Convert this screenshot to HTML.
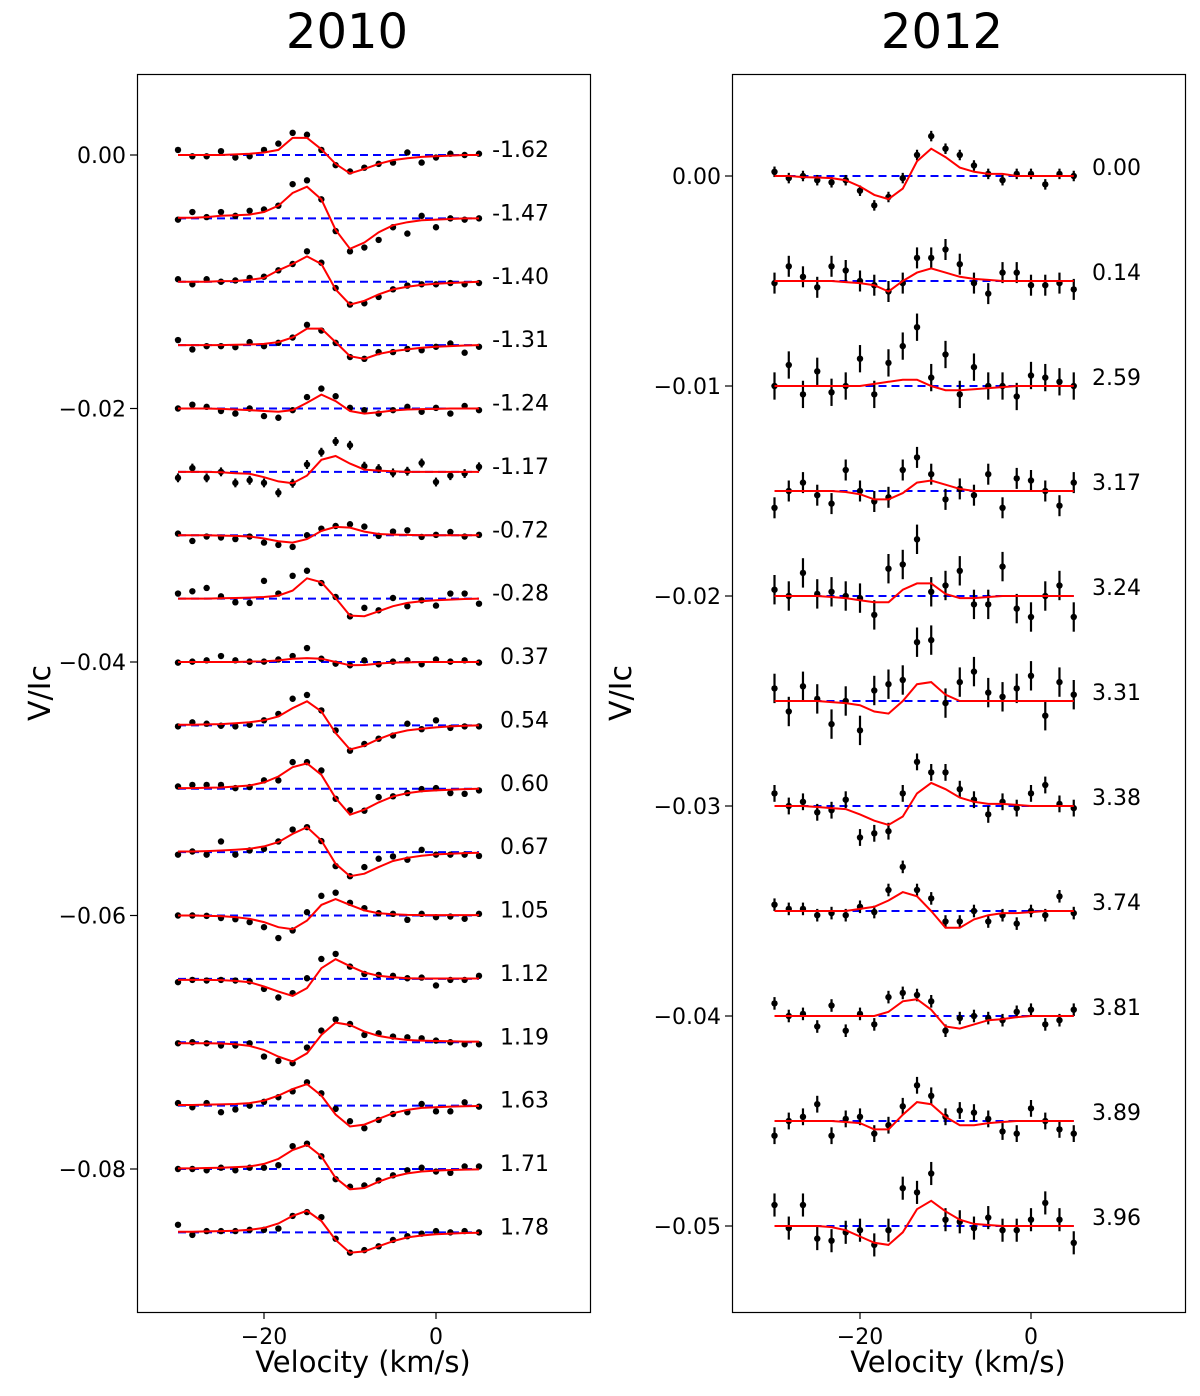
<!DOCTYPE html>
<html><head><meta charset="utf-8"><style>
html,body{margin:0;padding:0;background:#fff;}
svg{display:block;font-family:"DejaVu Sans","Liberation Sans",sans-serif;}
</style></head><body>
<svg id="chart" width="1200" height="1396" viewBox="0 0 1200 1396" xmlns="http://www.w3.org/2000/svg">
<text x="347" y="48" font-size="48" text-anchor="middle">2010</text>
<text x="942" y="48" font-size="48" text-anchor="middle">2012</text>
<rect x="137.5" y="74.5" width="453" height="1238" fill="none" stroke="#000" stroke-width="1.2"/>
<rect x="732.5" y="74.5" width="453" height="1238" fill="none" stroke="#000" stroke-width="1.2"/>
<text transform="translate(50,693) rotate(-90)" font-size="30" text-anchor="middle">V/Ic</text>
<text transform="translate(631,693) rotate(-90)" font-size="30" text-anchor="middle">V/Ic</text>
<text x="363" y="1372" font-size="29" text-anchor="middle">Velocity (km/s)</text>
<text x="958" y="1372" font-size="29" text-anchor="middle">Velocity (km/s)</text>
<g id="left"></g><g id="right"></g>
</svg>
<script>
const velocity=[-30.0,-28.33,-26.67,-25.0,-23.33,-21.67,-20.0,-18.33,-16.67,-15.0,-13.33,-11.67,-10.0,-8.33,-6.67,-5.0,-3.33,-1.67,0.0,1.67,3.33,5.0];
const leftLabels=['-1.62','-1.47','-1.40','-1.31','-1.24','-1.17','-0.72','-0.28','0.37','0.54','0.60','0.67','1.05','1.12','1.19','1.63','1.71','1.78'];
const leftErr=[2,2,2,2,2,3.5,2,2,2,2,2,2,2,2,2,2,2,2];
const leftModel=[
[0,0,0,0,0.5,1,2,4,13.5,13.5,4.5,-7,-14.5,-11,-7,-4,-2.5,-1.5,-1,-0.5,0,0],
[0.5,0.5,1,2,2.5,3,5,10,20,25,15,-9,-24,-19,-11,-5.5,-3,-1.5,-1,-0.5,0,0],
[0,0,0,0.5,0.5,1.5,3,9,14,20,14,-6,-18,-15,-10,-6,-4,-2.5,-1.5,-1,-0.5,0],
[0,0,0,0,0.3,0.5,1,2.4,6,13,13,2.4,-8.7,-10.8,-7,-4.7,-3.4,-2,-1.3,-0.8,-0.3,0],
[0,0,0,-0.3,-0.8,-1.3,-2,-2.6,-1.3,4.5,11,5.8,-2,-4,-3,-1.6,-0.8,-0.5,-0.3,0,0,0],
[0,0,0,-0.3,-1.1,-1.5,-4.2,-7.5,-8.9,-2.9,9.5,12.5,6.5,1.8,1,0.5,0,0,0,0,0,0],
[0,0,0,-0.3,-0.5,-1,-2.6,-4.7,-5.8,-3,3.4,6.6,6,2.9,1,0.5,0.3,0,0,0,0,0],
[0,0,0,0.3,0.5,0.8,1.3,2.4,6.3,16,12.9,0.5,-13.4,-13.9,-10,-6,-3.4,-2,-1.3,-0.8,-0.3,0],
[0,0,0,0,0,0.3,0.5,1.3,2.6,3.1,2.6,0,-2.6,-2.4,-1.3,-0.5,-0.3,0,0,0,0,0],
[0.5,0.5,0.8,1,1.6,2.4,4,7,13.6,19,11,-6,-19,-16,-10.8,-6.6,-4,-2.6,-1.6,-0.8,-0.3,0],
[0.5,0.5,0.8,1,1.8,2.6,5,9.7,17,20,11,-7.3,-20.5,-16.5,-10.8,-6,-3.4,-2,-1.3,-0.8,-0.3,0],
[0.5,0.5,0.8,1.3,1.8,2.6,4.5,7.9,14.4,19.7,9.2,-9.2,-19,-17,-11.8,-7,-4.5,-2.9,-1.8,-1.3,-0.8,-0.5],
[0,0,-0.3,-0.5,-1.3,-2.6,-5.2,-9.2,-10.8,-4,8.4,12.9,8.4,4,1.8,1,0.5,0.3,0.3,0.3,0.3,0.3],
[-0.8,-0.8,-0.8,-1,-1.6,-2.6,-6,-10,-13.4,-7.3,8.4,15.5,10,5,2.4,1.3,0.5,0.3,0.3,0.3,0.3,0.3],
[-0.8,-0.8,-0.8,-1,-1.6,-2.9,-6,-11.3,-15.2,-8.7,5.8,15.5,13.6,8.4,5,3.1,1.8,1.3,1,0.8,0.5,0.5],
[0.5,0.5,0.8,1,1.3,2,4,7.9,13,17,7.9,-7,-16.5,-15,-10.5,-6,-3.4,-1.8,-1.3,-0.8,-0.5,-0.3],
[0.5,0.5,0.8,1,1.5,2,4,8,15,19,10,-7,-16,-15,-10,-6,-3.5,-2,-1.3,-0.8,-0.5,-0.3],
[0.5,0.5,0.8,1,1.3,2,3.5,7,13,17,9,-6,-16,-15,-11,-7,-4,-2.5,-1.5,-1,-0.5,-0.3]];
const leftData=[
[4,-1,-1,3,-2,-1,4,9,17.5,16,4,-8,-13,-10,-7,-6,2,-6,-2,1,0,1],
[-1,5,1,5,2,6,7,10,27,30,15,-10,-26,-23,-17,-7,-12,2,-7,0,-1,0],
[2,-2,2,0,1,3,4,9,14,24,15,-5,-18,-17,-12,-6,-3,-2,-2,-1,-2,-1],
[4,-3.4,-0.8,-0.8,-1.6,2.4,-0.8,1.8,6,16,11.5,1.8,-9.4,-10.8,-5.5,-5.5,-3,-4,-1.3,1.3,-6,-1.3],
[0,3,1.3,-2,-4,0,-6,-7.3,-1.3,9,15.7,9.7,0.5,-1.3,-4,-1.3,1.3,-2.6,0.5,-4,2,-1.3],
[-4.7,3,-4.7,0,-8.7,-6.6,-8.7,-16.5,-9,5.8,15.5,24,21,4.5,2.6,-0.8,0.5,7,-8,-3,-1.3,4],
[1.3,-4.5,-1,-1.8,-3,-1,-5.8,-7.6,-9.2,0,5.2,7.3,8.7,6.8,-0.5,2.9,3.9,-1.3,0.3,2.6,-1,0.3],
[4,5.8,8.4,1.8,-2.9,-3.4,14,4,18,22,12.3,1.3,-14,-7.3,-9.2,0.5,-6,-1.3,-5.5,4,4,-4],
[-0.5,0.3,1.3,4.7,1.3,0.3,0.3,2,4.7,11,2.6,-1.3,-2.6,1.3,-1.8,0.3,1.3,-1.8,2,0.3,1.3,-0.5],
[-0.8,2.4,1.3,-0.3,-0.8,0.5,4,9,21,24,11.8,-4,-20,-14.7,-10.5,-8,1.3,-3,4,-2,-0.8,-0.8],
[1.8,3,3,3,0.5,1.3,6.6,6.6,21,21,14.4,-7.9,-17,-17.3,-6.6,-6,-3.4,-0.3,0.5,-3.4,-4,-1.3],
[-2,0.5,-2,8.4,-2,1.3,2.6,8.4,17.8,19.7,8.7,-11,-19,-11.8,-5.2,-3.4,-6,1.8,-2,-2,-2,-3],
[0,0,-0.3,-2,-2.9,-5.2,-9.2,-17.8,-11.8,2.6,15.5,18,10,5.8,1.8,1.3,-3.4,1.3,-1.3,-0.8,-2.6,1.3],
[-2.6,-0.8,-1.3,-0.8,-1.3,-2,-7.9,-14.7,-11.3,0.5,15.7,19.7,9.7,3.9,3.1,2.4,0.5,1,-5.2,-0.8,-0.8,2.4],
[-0.8,0,-0.8,-2.6,-2.6,-0.8,-11.3,-14.7,-16.5,-4.2,9.2,18,14.4,5.8,7,4.5,3.9,3.1,1.3,0,-1.6,-1.6],
[2,-1.3,2,-5.2,-3,0,3,6.6,11.3,18.4,9.7,-2.6,-12.3,-17.8,-11.3,-6.6,-5.2,1.3,-4.5,-4.5,2.6,-0.8],
[0,0,-1,1,-1,1,1,3,18,20,10,-8,-14,-13,-9,-5,-1,1,-2,-3,2,2],
[6,-2,1,1,1,2,2,3,13,16,12,-5,-16,-14,-11,-6,-3,-1,1,0,1,0]];
const rightLabels=['0.00','0.14','2.59','3.17','3.24','3.31','3.38','3.74','3.81','3.89','3.96'];
const rightErr=[2.5,5,6.5,5,7,7,4,3,3,4,5.5];
const rightModel=[
[0,0,-0.5,-0.7,-1,-2,-5,-9,-11,-6,7,13,9,4,2,1,1,0,0,0,0,0],
[0,0,0,0,0,-0.5,-1,-2,-5,0,4,6,4,2,1,0.5,0,0,0,0,0,0],
[0,0,0,0,0,0,0,1,2,3,3,0,-2,-2,-1.5,-1,-0.5,0,0,0,0,0],
[0,0,0,0,0,-0.5,-1.5,-4,-4,-1,4,5,3,1,0,0,0,0,0,0,0,0],
[0,0,0,0,-0.5,-1,-2,-3,-3,3,6,6,1,-1,-1,-0.5,0,0,0,0,0,0],
[0,0,0,0,-0.5,-1,-2,-5,-6,0,8,9,3,0,0,0,0,0,0,0,0,0],
[0,0,0,-0.5,-1,-1.5,-4,-7,-9,-5,6,11,8,4,2,1,1,0.5,0,0,0,0],
[0,0,0,0,0,0,1,2,5,9,7,0,-8,-8,-4,-2,-1,-1,-0.5,0,0,0],
[0,0,0,0,0,0,0,0,2,7,8,3,-5,-6,-4,-2,-1.5,-0.5,0,0,0,0],
[0,0,0,0,0,-0.5,-1,-4,-4,3,9,8,2,-2,-2,-1,-0.5,0,0,0,0,0],
[0,0,0,0,-0.5,-2,-5,-8,-9,-3,8,12,7,3,1,0.5,0,0,0,0,0,0]];
const rightData=[
[2,-1,0,-2,-3,-2,-7,-14,-10,-1,10,19,13,10,5,1,-2,1,1,-4,1,0],
[-1,7,2,-3,7,5,0,-2,-5,-1,11,11,15,8,-1,-6,4,4,-2,-2,-1,-4],
[0,10,-4,7,-3,0,13,-4,11,19,28,4,15,-4,9,0,0,-5,5,4,2,0],
[-8,0,4,-2,-6,10,0,-5,-3,10,16,8,-4,1,-2,8,-8,6,5,0,-7,4],
[3,0,11,1,2,0,-1,-9,13,15,27,2,5,12,-4,-4,14,-6,-10,0,5,-10],
[6,-5,7,1,-11,0,-14,5,8,10,28,29,-1,9,14,4,2,6,12,-7,9,3],
[6,0,2,-3,-2,3,-15,-13,-12,6,21,16,16,8,3,-4,2,-1,6,10,1,-1],
[3,1,1,-2,-1,-2,2,-0.5,10,21,10,6,-5,-5,0,-5,-2,-6,0,-2,7,-1],
[6,0,1,-5,5,-7,1,-4,9,11,10,7,-7,-1,0,-1,-2,2,3,-4,-2,3],
[-7,0,2,8,-7,1,2,-6,-2,7,17,12,2,5,4,1,-5,-6,6,0,-4,-6],
[10,-1,10,-6,-7,-3,-2,-9,-2,18,16,25,3,2,-1,4,-2,-2,3,11,3,-8]];
const leftYTicks=[0,-0.02,-0.04,-0.06,-0.08];
const rightYTicks=[0,-0.01,-0.02,-0.03,-0.04,-0.05];
const xTicks=[-20,0];

const NS='http://www.w3.org/2000/svg';
function mk(parent,tag,attrs,text){const e=document.createElementNS(NS,tag);for(const k in attrs)e.setAttribute(k,attrs[k]);if(text!==undefined)e.textContent=text;parent.appendChild(e);return e;}
function fmt(t){return t===0?'0.00':'\u2212'+Math.abs(t).toFixed(2);}

function panel(g,cfg){
  const xS=v=>cfg.x0+v*cfg.xk, yS=val=>cfg.y0-val*cfg.yk;
  cfg.yticks.forEach(t=>{
    const y=yS(t);
    const tk=mk(g,'line',{x1:cfg.fl,x2:cfg.fl-7,y1:y,y2:y,stroke:'#000','stroke-width':1.2});
    
    
    const tl=mk(g,'text',{x:cfg.fl-11,y:y+8,'font-size':22,'text-anchor':'end'},fmt(t));
    
    
  });
  xTicks.forEach(t=>{
    const x=xS(t);
    const tk=mk(g,'line',{x1:x,x2:x,y1:1312,y2:1319,stroke:'#000','stroke-width':1.2});
    
    
    const tl=mk(g,'text',{x:x,y:1344,'font-size':22,'text-anchor':'middle'},t===0?'0':'\u2212'+Math.abs(t));
    
    
  });
  cfg.model.forEach((row,r)=>{
    const off=-cfg.step*r;
    const rg=mk(g,'g',{});
    
    
    const yb=yS(off);
    const base=mk(rg,'line',{x1:xS(velocity[0]),x2:xS(velocity[velocity.length-1]),y1:yb,y2:yb,stroke:'#0000ff','stroke-width':2,'stroke-dasharray':'8,5'});
    
    
    cfg.data[r].forEach((d,i)=>{
      const x=xS(velocity[i]),y=yS(off+d*1e-4),e=cfg.err[r]*1e-4*cfg.yk;
      const eb=mk(rg,'line',{x1:x,x2:x,y1:y-e,y2:y+e,stroke:'#000','stroke-width':2.2});
      
      
      const c=mk(rg,'circle',{cx:x,cy:y,r:3.2,fill:'#000'});
      
      
    });
    const pts=row.map((m,i)=>xS(velocity[i]).toFixed(1)+','+yS(off+m*1e-4).toFixed(1)).join(' ');
    const pl=mk(rg,'polyline',{points:pts,fill:'none',stroke:'#ff0000','stroke-width':2});
    
    
    const lb=mk(rg,'text',{x:cfg.lx,y:yb+cfg.ldy,'font-size':22,'text-anchor':'end'},cfg.labels[r]);
    
    
  });
}
panel(document.getElementById('left'),{x0:436,xk:8.6,y0:155,yk:12675,fl:137,yticks:leftYTicks,model:leftModel,data:leftData,err:leftErr,labels:leftLabels,step:0.005,lx:549,ldy:2});
panel(document.getElementById('right'),{x0:1031,xk:8.55,y0:176,yk:21000,fl:732,yticks:rightYTicks,model:rightModel,data:rightData,err:rightErr,labels:rightLabels,step:0.005,lx:1141,ldy:-1});
</script>
</body></html>
